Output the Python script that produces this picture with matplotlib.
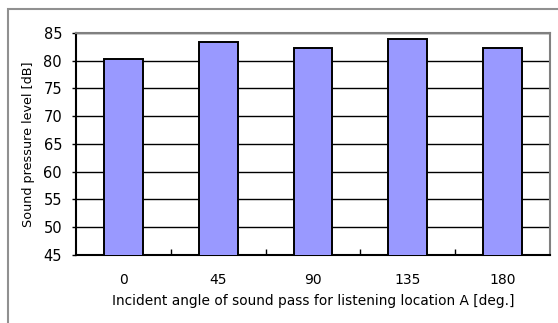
import numpy as np
import matplotlib.pyplot as plt
from matplotlib.patches import Rectangle

# incident angle vs sound pressure level
angles = ['0', '45', '90', '135', '180']
spl = [80.3, 83.4, 82.35, 84.0, 82.35]

fig = plt.figure(figsize=(5.58, 3.23), dpi=100)
fig.patch.set_facecolor('white')

# outer chart frame (cut off at right/bottom in the original)
fig.patches.append(Rectangle((8 / 558, -0.1), 1.2, 1 - 9 / 323 + 0.1,
                             transform=fig.transFigure, fill=False,
                             edgecolor='#909090', linewidth=1.5))

ax = fig.add_axes([76 / 558, 1 - 255 / 323, 474 / 558, 222 / 323])
x = np.arange(len(angles))
ax.bar(x, spl, width=0.41, color='#9999FF', edgecolor='black', linewidth=1.4,
       zorder=3)

ax.set_ylim(45, 85)
ax.set_yticks(np.arange(45, 86, 5))
ax.set_xlim(-0.5, len(angles) - 0.5)
ax.set_xticks(x)
ax.set_xticklabels(angles)
ax.set_xticks(x[:-1] + 0.5, minor=True)
ax.tick_params(axis='x', which='major', length=0, pad=13, labelsize=10)
ax.tick_params(axis='x', which='minor', direction='in', length=4, width=1)
ax.tick_params(axis='y', direction='out', length=3, width=1, labelsize=10.5, pad=7)

ax.yaxis.grid(True, color='black', linewidth=1)
ax.set_axisbelow(True)
for s in ['top', 'right']:
    ax.spines[s].set_color('#808080')
    ax.spines[s].set_linewidth(1.5)
for s in ['left', 'bottom']:
    ax.spines[s].set_color('black')
    ax.spines[s].set_linewidth(1.5)

ax.set_ylabel('Sound pressure level [dB]', fontsize=9.2, labelpad=6)
ax.set_xlabel('Incident angle of sound pass for listening location A [deg.]',
              fontsize=9.9, labelpad=5)

fig.savefig('out.png', dpi=100)
